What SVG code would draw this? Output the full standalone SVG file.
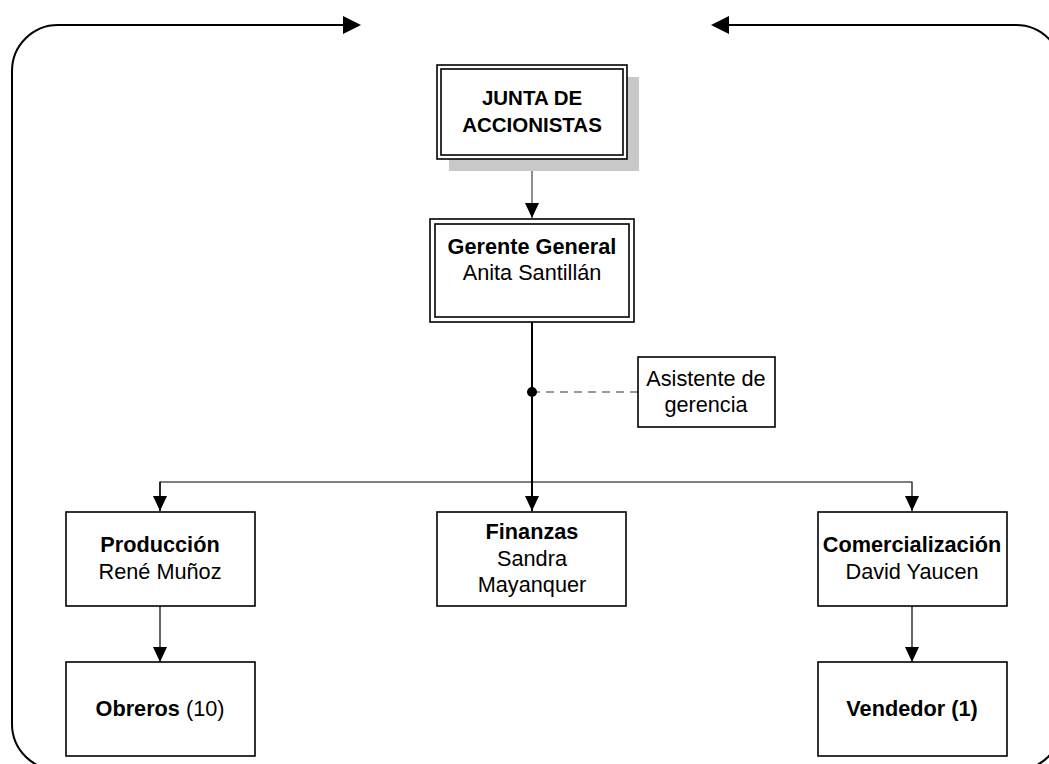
<svg xmlns="http://www.w3.org/2000/svg" width="1049" height="764" viewBox="0 0 1049 764">
<style>
.box{fill:#fff;stroke:#000;stroke-width:1.6}
.t{font-family:"Liberation Sans",Arial,sans-serif;font-size:21.7px;fill:#000;text-anchor:middle}
.j{font-size:20.5px}
.b{font-weight:bold}
.c{fill:none;stroke:#000;stroke-width:1.2}
</style>
<defs>
<marker id="ah" markerUnits="userSpaceOnUse" markerWidth="15" markerHeight="14" refX="15" refY="7" orient="auto" viewBox="0 0 15 14">
<path d="M0,0 L15,7 L0,14 Z" fill="#000"/>
</marker>
</defs>
<g id="connectors">
<path d="M343,25 H58 A46,46 0 0 0 12,71 V724 A46,46 0 0 0 58,770 H1016 A46,46 0 0 0 1062,724 V71 A46,46 0 0 0 1016,25 H729" fill="none" stroke="#000" stroke-width="2"/>
<polygon points="343,16 361,25 343,34" fill="#000"/>
<polygon points="729,16 711,25 729,34" fill="#000"/>
<line x1="532" y1="159" x2="532" y2="218" stroke="#444" stroke-width="1.2" marker-end="url(#ah)"/>
<line x1="532" y1="322" x2="532" y2="511" stroke="#000" stroke-width="2" marker-end="url(#ah)"/>
<line x1="532" y1="392" x2="638" y2="392" stroke="#777" stroke-width="1.5" stroke-dasharray="8,6"/>
<circle cx="532" cy="392" r="5" fill="#000"/>
<path class="c" d="M160,511 V482 H912 V511" marker-end="url(#ah)"/>
<path class="c" d="M160,482 V511" marker-end="url(#ah)"/>
<line class="c" x1="160" y1="606" x2="160" y2="662" marker-end="url(#ah)"/>
<line class="c" x1="912" y1="606" x2="912" y2="662" marker-end="url(#ah)"/>
</g>
<g id="junta">
<rect x="449" y="77" width="190" height="94" fill="#c8c8c8"/>
<rect class="box" x="437" y="65" width="190" height="94"/>
<rect class="box" x="441" y="69" width="182" height="86"/>
<text class="t j b" x="532" y="105">JUNTA DE</text>
<text class="t j b" x="532" y="132">ACCIONISTAS</text>
</g>
<g id="gerente">
<rect class="box" x="430" y="219" width="204" height="103"/>
<rect class="box" x="435" y="224" width="194" height="93"/>
<text class="t b" x="532" y="254">Gerente General</text>
<text class="t" x="532" y="280">Anita Santillán</text>
</g>
<g id="asistente">
<rect class="box" x="638" y="357" width="137" height="70"/>
<text class="t" x="706" y="386">Asistente de</text>
<text class="t" x="706" y="412">gerencia</text>
</g>
<g id="produccion">
<rect class="box" x="66" y="512" width="189" height="94"/>
<text class="t b" x="160" y="552">Producción</text>
<text class="t" x="160" y="579">René Muñoz</text>
</g>
<g id="finanzas">
<rect class="box" x="437" y="512" width="189" height="94"/>
<text class="t b" x="532" y="539">Finanzas</text>
<text class="t" x="532" y="566">Sandra</text>
<text class="t" x="532" y="592">Mayanquer</text>
</g>
<g id="comercializacion">
<rect class="box" x="818" y="512" width="189" height="94"/>
<text class="t b" x="912" y="552">Comercialización</text>
<text class="t" x="912" y="579">David Yaucen</text>
</g>
<g id="obreros">
<rect class="box" x="66" y="662" width="189" height="94"/>
<text class="t" x="160" y="716"><tspan class="b">Obreros</tspan> (10)</text>
</g>
<g id="vendedor">
<rect class="box" x="818" y="662" width="189" height="94"/>
<text class="t b" x="912" y="716">Vendedor (1)</text>
</g>
</svg>
